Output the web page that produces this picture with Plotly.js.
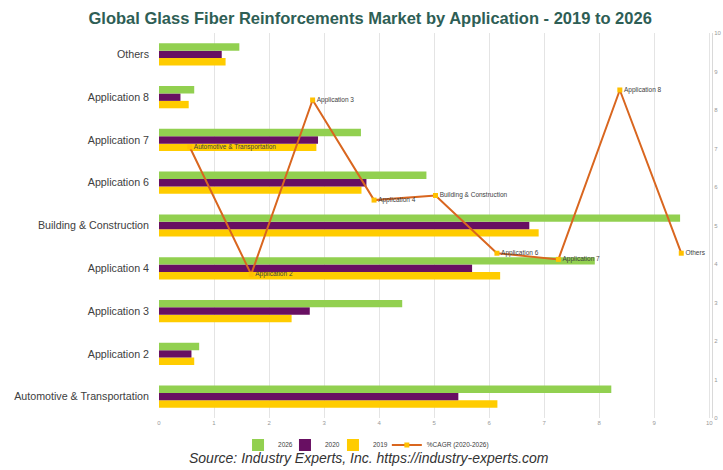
<!DOCTYPE html>
<html>
<head>
<meta charset="utf-8">
<script src="https://cdn.plot.ly/plotly-3.0.1.min.js"></script>
<style>html,body{margin:0;padding:0;background:#fff;}#chart{width:723px;height:470px;}</style>
</head>
<body>
<div id="chart"></div>
<script>
// Categories (bottom to top)
const categories = ["Automotive & Transportation", "Application 2", "Application 3", "Application 4",
  "Building & Construction", "Application 6", "Application 7", "Application 8", "Others"];
// Market values by year
const values2026 = [8.22, 0.73, 4.42, 7.92, 9.47, 4.86, 3.67, 0.64, 1.46];
const values2020 = [5.44, 0.59, 2.74, 5.69, 6.73, 3.77, 2.89, 0.39, 1.14];
const values2019 = [6.15, 0.64, 2.41, 6.20, 6.90, 3.68, 2.86, 0.54, 1.21];
// %CAGR (2020-2026)
const cagr = [7.04, 3.73, 8.26, 5.66, 5.78, 4.28, 4.12, 8.52, 4.28];
const xTicks = [0, 1, 2, 3, 4, 5, 6, 7, 8, 9, 10];
const yTicks2 = [0, 1, 2, 3, 4, 5, 6, 7, 8, 9, 10];

const font = "Liberation Sans, Arial, sans-serif";

const traces = [
  {type: "bar", orientation: "h", name: "2019", y: categories, x: values2019,
   marker: {color: "#FFCC00"}, legend: "legend4"},
  {type: "bar", orientation: "h", name: "2020", y: categories, x: values2020,
   marker: {color: "#680F62"}, legend: "legend3"},
  {type: "bar", orientation: "h", name: "2026", y: categories, x: values2026,
   marker: {color: "#92D050"}, legend: "legend"},
  {type: "scatter", mode: "lines+markers+text", name: "%CAGR (2020-2026)",
   x: categories, y: cagr, xaxis: "x2", yaxis: "y2", legend: "legend2",
   text: categories, textposition: "middle right",
   textfont: {size: 6.5, color: "#404040", family: font},
   line: {color: "#D9661F", width: 2},
   marker: {color: "#FFC000", size: 5, symbol: "square"},
   cliponaxis: false}
];

function leg(xp) {
  return {orientation: "h", x: xp, xanchor: "left", y: -0.07, yanchor: "middle",
    font: {size: 6.5, color: "#404040"}, itemwidth: 30, bgcolor: "rgba(0,0,0,0)"};
}

const layout = {
  width: 723, height: 470,
  margin: {l: 159, r: 11, t: 33, b: 48},
  paper_bgcolor: "#fff", plot_bgcolor: "#fff",
  font: {family: font, color: "#404040"},
  title: {text: "<b>Global Glass Fiber Reinforcements Market by Application - 2019 to 2026</b>",
    font: {size: 16.5, color: "#2E5E55", family: font},
    x: 0.512, xref: "container", xanchor: "center", y: 0.962, yref: "container", yanchor: "middle"},
  barmode: "group", bargap: 0.48, bargroupgap: 0,
  xaxis: {range: [0, 10.05], tickvals: xTicks, ticktext: xTicks.map(String),
    showgrid: true, gridcolor: "#E4E4E4", gridwidth: 1, zeroline: false,
    tickfont: {size: 6, color: "#999"}, ticks: "", showline: false},
  yaxis: {type: "category", categoryorder: "array", categoryarray: categories,
    tickfont: {size: 10.7, color: "#404040"}, ticks: "", showgrid: false, zeroline: false,
    ticklabelstandoff: 9},
  xaxis2: {type: "category", overlaying: "x", anchor: "y2", categoryorder: "array",
    categoryarray: categories, range: [-0.5, 8.5], visible: false, showgrid: false},
  yaxis2: {overlaying: "y", side: "right", anchor: "x2", range: [0, 10],
    tickvals: yTicks2, ticktext: yTicks2.map(String), showgrid: false, zeroline: false,
    showline: true, linecolor: "#D9D9D9", linewidth: 1, ticks: "",
    tickfont: {size: 6, color: "#999"}},
  legend: leg(0.1429),
  legend3: leg(0.2278),
  legend4: leg(0.3146),
  legend2: leg(0.412),
  annotations: [{text: "<i>Source: Industry Experts, Inc. https://industry-experts.com</i>",
    xref: "paper", yref: "paper", x: 0.38, y: -0.105, xanchor: "center", yanchor: "middle",
    showarrow: false, font: {size: 14, color: "#333", family: font}}],
  showlegend: true
};

Plotly.newPlot("chart", traces, layout, {displayModeBar: false, staticPlot: true});
</script>
</body>
</html>
